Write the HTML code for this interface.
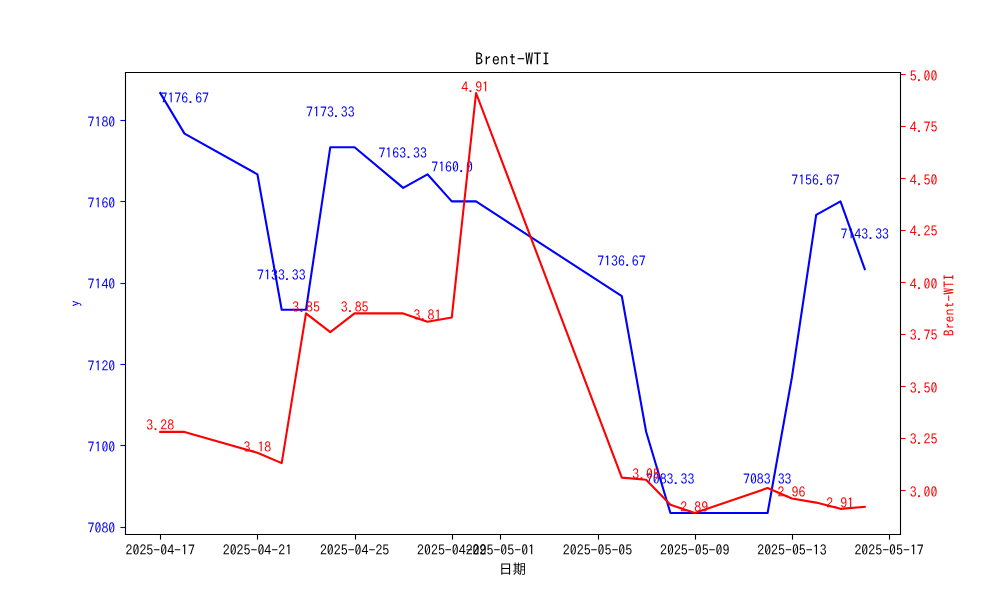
<!DOCTYPE html>
<html><head><meta charset="utf-8"><title>Brent-WTI</title>
<style>
html,body{margin:0;padding:0;background:#fff;overflow:hidden;}
svg{display:block;}
text{font-family:'IPAGothic', 'Liberation Sans', 'Noto Sans CJK JP', sans-serif;}

</style></head><body>
<svg width="1000" height="600" viewBox="0 0 1000 600">
<rect x="0" y="0" width="1000" height="600" fill="#fff"/>
<polyline points="160.23,93.00 184.52,133.65 257.41,174.29 281.70,309.77 306.00,309.77 330.29,147.19 354.58,147.19 403.17,187.84 427.47,174.29 451.76,201.39 476.06,201.39 621.83,296.23 646.12,431.71 670.42,513.00 694.71,513.00 767.59,513.00 791.89,377.52 816.18,214.94 840.48,201.39 864.77,269.13" fill="none" stroke="#0000ff" stroke-width="2.083" stroke-linejoin="round" stroke-linecap="square"/>
<text x="184.72" y="103" font-size="13.89" text-anchor="middle" fill="#0000ff">7176.67</text>
<text x="281.40" y="280" font-size="13.89" text-anchor="middle" fill="#0000ff">7133.33</text>
<text x="330.39" y="117" font-size="13.89" text-anchor="middle" fill="#0000ff">7173.33</text>
<text x="402.67" y="158" font-size="13.89" text-anchor="middle" fill="#0000ff">7163.33</text>
<text x="452.06" y="172" font-size="13.89" text-anchor="middle" fill="#0000ff">7160.0</text>
<text x="621.43" y="266" font-size="13.89" text-anchor="middle" fill="#0000ff">7136.67</text>
<text x="670.07" y="484" font-size="13.89" text-anchor="middle" fill="#0000ff">7083.33</text>
<text x="767.24" y="484" font-size="13.89" text-anchor="middle" fill="#0000ff">7083.33</text>
<text x="815.48" y="185" font-size="13.89" text-anchor="middle" fill="#0000ff">7156.67</text>
<text x="864.77" y="239" font-size="13.89" text-anchor="middle" fill="#0000ff">7143.33</text>
<line x1="160.5" y1="534.5" x2="160.5" y2="539.60" stroke="#000" stroke-width="1.11"/>
<text x="160.23" y="555" font-size="13.89" text-anchor="middle" fill="#000">2025-04-17</text>
<line x1="257.5" y1="534.5" x2="257.5" y2="539.60" stroke="#000" stroke-width="1.11"/>
<text x="257.41" y="555" font-size="13.89" text-anchor="middle" fill="#000">2025-04-21</text>
<line x1="355.5" y1="534.5" x2="355.5" y2="539.60" stroke="#000" stroke-width="1.11"/>
<text x="354.58" y="555" font-size="13.89" text-anchor="middle" fill="#000">2025-04-25</text>
<line x1="452.5" y1="534.5" x2="452.5" y2="539.60" stroke="#000" stroke-width="1.11"/>
<text x="451.76" y="555" font-size="13.89" text-anchor="middle" fill="#000">2025-04-29</text>
<line x1="500.5" y1="534.5" x2="500.5" y2="539.60" stroke="#000" stroke-width="1.11"/>
<text x="500.35" y="555" font-size="13.89" text-anchor="middle" fill="#000">2025-05-01</text>
<line x1="598.5" y1="534.5" x2="598.5" y2="539.60" stroke="#000" stroke-width="1.11"/>
<text x="597.53" y="555" font-size="13.89" text-anchor="middle" fill="#000">2025-05-05</text>
<line x1="695.5" y1="534.5" x2="695.5" y2="539.60" stroke="#000" stroke-width="1.11"/>
<text x="694.71" y="555" font-size="13.89" text-anchor="middle" fill="#000">2025-05-09</text>
<line x1="792.5" y1="534.5" x2="792.5" y2="539.60" stroke="#000" stroke-width="1.11"/>
<text x="791.89" y="555" font-size="13.89" text-anchor="middle" fill="#000">2025-05-13</text>
<line x1="889.5" y1="534.5" x2="889.5" y2="539.60" stroke="#000" stroke-width="1.11"/>
<text x="889.07" y="555" font-size="13.89" text-anchor="middle" fill="#000">2025-05-17</text>
<line x1="120.40" y1="527.5" x2="125.5" y2="527.5" stroke="#0000ff" stroke-width="1.11"/>
<text x="115.3" y="533" font-size="13.89" text-anchor="end" fill="#0000ff">7080</text>
<line x1="120.40" y1="445.5" x2="125.5" y2="445.5" stroke="#0000ff" stroke-width="1.11"/>
<text x="115.3" y="452" font-size="13.89" text-anchor="end" fill="#0000ff">7100</text>
<line x1="120.40" y1="364.5" x2="125.5" y2="364.5" stroke="#0000ff" stroke-width="1.11"/>
<text x="115.3" y="371" font-size="13.89" text-anchor="end" fill="#0000ff">7120</text>
<line x1="120.40" y1="283.5" x2="125.5" y2="283.5" stroke="#0000ff" stroke-width="1.11"/>
<text x="115.3" y="289" font-size="13.89" text-anchor="end" fill="#0000ff">7140</text>
<line x1="120.40" y1="201.5" x2="125.5" y2="201.5" stroke="#0000ff" stroke-width="1.11"/>
<text x="115.3" y="208" font-size="13.89" text-anchor="end" fill="#0000ff">7160</text>
<line x1="120.40" y1="120.5" x2="125.5" y2="120.5" stroke="#0000ff" stroke-width="1.11"/>
<text x="115.3" y="127" font-size="13.89" text-anchor="end" fill="#0000ff">7180</text>
<text x="512.5" y="574" font-size="13.89" text-anchor="middle" fill="#000">日期</text>
<text transform="translate(79.7,303.6) rotate(-90)" font-size="13.89" text-anchor="middle" fill="#0000ff">y</text>
<text x="512.5" y="65" font-size="16.67" text-anchor="middle" fill="#000">Brent-WTI</text>
<polyline points="160.23,431.91 184.52,431.91 257.41,452.70 281.70,463.10 306.00,313.40 330.29,332.11 354.58,313.40 403.17,313.40 427.47,321.71 451.76,317.55 476.06,93.00 621.83,477.65 646.12,479.73 670.42,504.68 694.71,513.00 767.59,488.05 791.89,498.45 816.18,502.60 840.48,508.84 864.77,506.76" fill="none" stroke="#ff0000" stroke-width="2.083" stroke-linejoin="round" stroke-linecap="square"/>
<text x="160.23" y="430" font-size="13.89" text-anchor="middle" fill="#ff0000">3.28</text>
<text x="257.41" y="452" font-size="13.89" text-anchor="middle" fill="#ff0000">3.18</text>
<text x="306.10" y="312" font-size="13.89" text-anchor="middle" fill="#ff0000">3.85</text>
<text x="354.68" y="312" font-size="13.89" text-anchor="middle" fill="#ff0000">3.85</text>
<text x="427.47" y="320" font-size="13.89" text-anchor="middle" fill="#ff0000">3.81</text>
<text x="475.16" y="92" font-size="13.89" text-anchor="middle" fill="#ff0000">4.91</text>
<text x="646.12" y="479" font-size="13.89" text-anchor="middle" fill="#ff0000">3.05</text>
<text x="694.21" y="512" font-size="13.89" text-anchor="middle" fill="#ff0000">2.89</text>
<text x="791.49" y="497" font-size="13.89" text-anchor="middle" fill="#ff0000">2.96</text>
<text x="840.18" y="508" font-size="13.89" text-anchor="middle" fill="#ff0000">2.91</text>
<line x1="900.5" y1="490.5" x2="905.60" y2="490.5" stroke="#ff0000" stroke-width="1.11"/>
<text x="909.7" y="497" font-size="13.89" text-anchor="start" fill="#ff0000">3.00</text>
<line x1="900.5" y1="438.5" x2="905.60" y2="438.5" stroke="#ff0000" stroke-width="1.11"/>
<text x="909.7" y="444" font-size="13.89" text-anchor="start" fill="#ff0000">3.25</text>
<line x1="900.5" y1="386.5" x2="905.60" y2="386.5" stroke="#ff0000" stroke-width="1.11"/>
<text x="909.7" y="393" font-size="13.89" text-anchor="start" fill="#ff0000">3.50</text>
<line x1="900.5" y1="334.5" x2="905.60" y2="334.5" stroke="#ff0000" stroke-width="1.11"/>
<text x="909.7" y="340" font-size="13.89" text-anchor="start" fill="#ff0000">3.75</text>
<line x1="900.5" y1="282.5" x2="905.60" y2="282.5" stroke="#ff0000" stroke-width="1.11"/>
<text x="909.7" y="289" font-size="13.89" text-anchor="start" fill="#ff0000">4.00</text>
<line x1="900.5" y1="230.5" x2="905.60" y2="230.5" stroke="#ff0000" stroke-width="1.11"/>
<text x="909.7" y="236" font-size="13.89" text-anchor="start" fill="#ff0000">4.25</text>
<line x1="900.5" y1="178.5" x2="905.60" y2="178.5" stroke="#ff0000" stroke-width="1.11"/>
<text x="909.7" y="185" font-size="13.89" text-anchor="start" fill="#ff0000">4.50</text>
<line x1="900.5" y1="126.5" x2="905.60" y2="126.5" stroke="#ff0000" stroke-width="1.11"/>
<text x="909.7" y="132" font-size="13.89" text-anchor="start" fill="#ff0000">4.75</text>
<line x1="900.5" y1="74.5" x2="905.60" y2="74.5" stroke="#ff0000" stroke-width="1.11"/>
<text x="909.7" y="81" font-size="13.89" text-anchor="start" fill="#ff0000">5.00</text>
<text transform="translate(953.5,305.1) rotate(-90)" font-size="13.89" text-anchor="middle" fill="#ff0000">Brent-WTI</text>
<g stroke="#000" stroke-width="1.11" fill="none" stroke-linecap="square">
<line x1="125.5" y1="72.5" x2="125.5" y2="534.5"/>
<line x1="900.5" y1="72.5" x2="900.5" y2="534.5"/>
<line x1="125.5" y1="72.5" x2="900.5" y2="72.5"/>
<line x1="125.5" y1="534.5" x2="900.5" y2="534.5"/>
</g>
</svg>
</body></html>
